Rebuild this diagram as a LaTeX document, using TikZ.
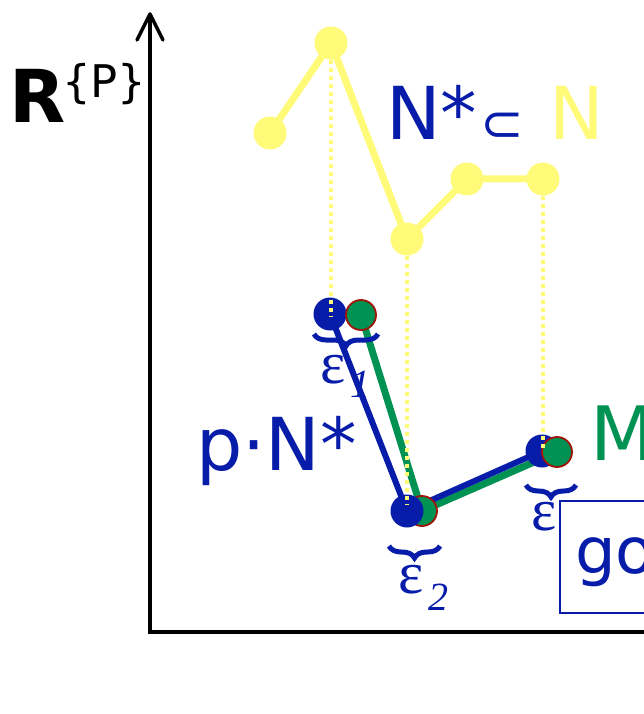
\documentclass[tikz,border=0pt]{standalone}
\usepackage{fontspec}
\setmainfont{DejaVu Sans}
\newfontfamily\grserif{Liberation Serif}
\usetikzlibrary{decorations.pathreplacing}
\definecolor{ptblue}{RGB}{8,28,170}
\definecolor{ptgreen}{RGB}{0,146,82}
\definecolor{ptyellow}{RGB}{255,250,120}
\definecolor{ptred}{RGB}{160,20,10}
\newcommand\fsz[1]{\fontsize{#1}{#1}\selectfont}
\tikzset{
  ydot/.style={circle, fill=ptyellow, minimum size=33pt, inner sep=0pt},
  bdot/.style={circle, fill=ptblue, minimum size=33pt, inner sep=0pt},
  gdot/.style={circle, fill=ptgreen, draw=ptred, line width=1.8pt, minimum size=30pt, inner sep=0pt},
  yline/.style={ptyellow, line width=7pt, line join=round},
  bline/.style={ptblue, line width=6pt, line join=round},
  gline/.style={ptgreen, line width=7pt, line join=round},
  proj/.style={ptyellow, line width=4.5pt, dash pattern=on 4pt off 4pt},
  bracest/.style={ptblue, line width=5pt, decorate, decoration={brace, amplitude=12pt, mirror}},
  lbl/.style={anchor=base west, inner sep=0pt},
  epsl/.style={lbl, text=ptblue, font=\grserif\fsz{60}},
  subl/.style={lbl, text=ptblue, font=\grserif\itshape\fsz{40}},
  axis/.style={black, line width=3.5pt}
}
\begin{document}
\begin{tikzpicture}[x=1pt, y=-1pt]
\clip (0,0) rectangle (644,714);
\fill[white] (0,0) rectangle (644,714);

% axes
\coordinate (origin) at (150,632);
\coordinate (ytop) at (150,14);
\coordinate (xend) at (700,632);
\coordinate (hl) at (137,40);
\coordinate (hr) at (163,40);
\draw[axis, line join=miter] (ytop) -- (origin) -- (xend);
\draw[axis, line cap=round, line join=round] (hl) -- (ytop) -- (hr);

% the set N
\coordinate (n1) at (270,133);
\coordinate (n2) at (331,43);
\coordinate (n3) at (407,239);
\coordinate (n4) at (467,179);
\coordinate (n5) at (543,179);
\draw[yline] (n1) -- (n2) -- (n3) -- (n4) -- (n5);
\foreach \i in {1,...,5} \node[ydot] (Y\i) at (n\i) {};

% the subset N* and its perturbation M
\coordinate (b1) at (330,314);
\coordinate (b2) at (407,511);
\coordinate (b3) at (542,451);
\coordinate (g1) at (361,315);
\coordinate (g2) at (422,511);
\coordinate (g3) at (557,452);
\draw[gline] (g1) -- (g2) -- (g3);
\draw[bline] (b1) -- (b2) -- (b3);
\node[bdot] (B1) at (b1) {};
\node[gdot] (G1) at (g1) {};
\node[gdot] (G2) at (g2) {};
\node[bdot] (B2) at (b2) {};
\node[bdot] (B3) at (b3) {};
\node[gdot] (G3) at (g3) {};

% projections
\coordinate (p1) at (331,316);
\coordinate (p2) at (407,505);
\coordinate (p3) at (543,450);
\draw[proj] (Y2.south) -- (p1);
\draw[proj] (Y3.south) -- (p2);
\draw[proj] (Y5.south) -- (p3);

% braces and epsilons
\coordinate (e1l) at (314,334);
\coordinate (e1r) at (378,334);
\coordinate (e2l) at (389,546);
\coordinate (e2r) at (440,546);
\coordinate (e3l) at (526,485);
\coordinate (e3r) at (576,485);
\draw[bracest] (e1l) -- (e1r);
\draw[bracest] (e2l) -- (e2r);
\draw[bracest] (e3l) -- (e3r);
\node[epsl] (eps1) at (320,383) {ε};
\node[subl] (sub1) at (350,397) {1};
\node[epsl] (eps2) at (398,593) {ε};
\node[subl] (sub2) at (428,610) {2};
\node[epsl] (eps3) at (531,530) {ε};

% labels
\node[lbl, font=\bfseries\fsz{73}] (R) at (9,123) {R};
\node[lbl, font=\fsz{45}] (Rsup) at (62,98) {\{P\}};
\node[lbl, text=ptblue, font=\fsz{73}] (Nstar) at (386,140) {N*};
\node[lbl, text=ptblue, font=\fsz{52}] (subs) at (480,142) {⊂};
\node[lbl, text=ptyellow, font=\fsz{73}] (N) at (549,140) {N};
\node[lbl, text=ptblue, font=\fsz{73}] (pN) at (196,470) {p·N*};
\node[lbl, text=ptgreen, font=\fsz{75}] (M) at (590,460) {M};

% boxed note
\node[draw=ptblue, fill=white, line width=2pt, anchor=north west, minimum width=160pt, minimum height=112pt, inner sep=0pt] (gobox) at (559,500) {};
\node[lbl, text=ptblue, font=\fsz{64}] (gotext) at (575,573) {go};
\end{tikzpicture}
\end{document}
